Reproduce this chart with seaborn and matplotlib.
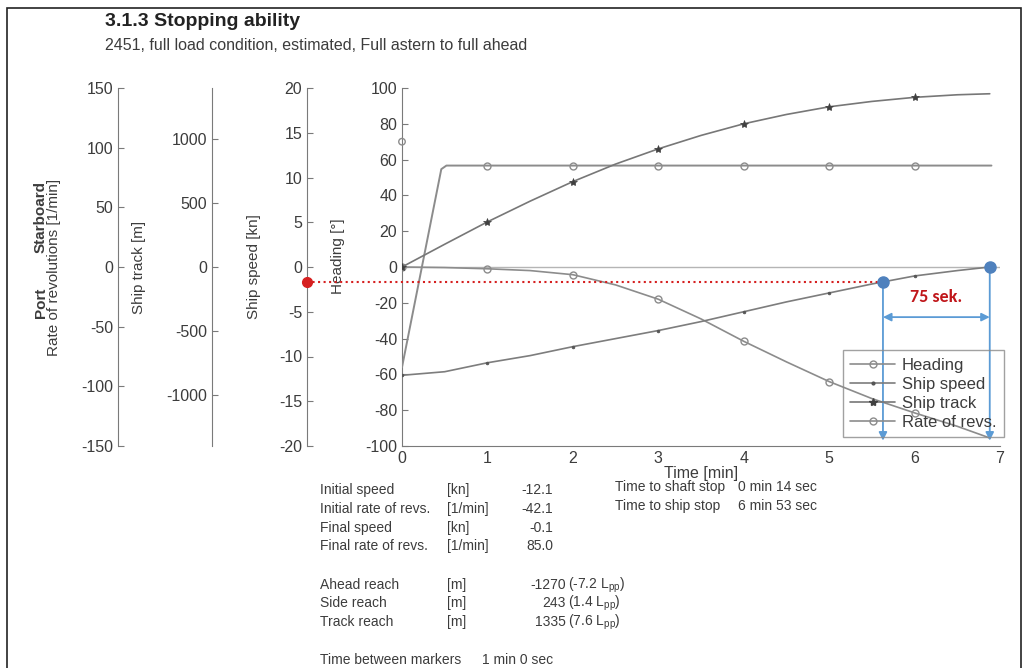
import matplotlib
matplotlib.use("Agg")
import matplotlib.pyplot as plt
import seaborn as sns
from matplotlib.lines import Line2D
from matplotlib.patches import Rectangle

# time axis [min]
t = [0, 0.5, 1, 1.5, 2, 2.5, 3, 3.5, 4, 4.5, 5, 5.5, 6, 6.5, 6.88]
heading = [0, -0.3, -1, -2, -4.3, -10, -18, -29, -41.5, -53, -64, -73.5, -81.5, -89, -95.5]
ship_speed = [-12.1, -11.7, -10.7, -9.9, -8.9, -8.0, -7.1, -6.1, -5.0, -3.9, -2.9, -1.9, -1.0, -0.4, 0.0]
ship_track = [0, 178, 353, 515, 668, 805, 924, 1029, 1120, 1193, 1253, 1295, 1327, 1347, 1355]
t_revs = [0, 0.46, 0.52, 0.6, 1, 2, 3, 4, 5, 6, 6.9]
revs = [-84, 82, 85, 85, 85, 85, 85, 85, 85, 85, 85]
stray_t, stray_revs = [0], [105]

# stop annotation (speed axis units)
stop_t = [5.63, 6.88]
stop_speed = [-1.7, 0.0]
arrow_speed = -5.6
label_speed = -3.4

stats_labels = ["Initial speed", "Initial rate of revs.", "Final speed", "Final rate of revs."]
stats_units = ["[kn]", "[1/min]", "[kn]", "[1/min]"]
stats_values = ["-12.1", "-42.1", "-0.1", "85.0"]
reach_labels = ["Ahead reach", "Side reach", "Track reach"]
reach_values = ["-1270", "243", "1335"]
reach_lpp = ["-7.2", "1.4", "7.6"]

sns.set_style("white")
plt.rcParams["font.family"] = ["Liberation Sans", "DejaVu Sans"]
plt.rcParams["mathtext.fontset"] = "custom"
plt.rcParams["mathtext.rm"] = "Liberation Sans"
plt.rcParams["mathtext.it"] = "Liberation Sans"
plt.rcParams["axes.unicode_minus"] = False

W, H = 1027, 668
TXT = "#3c3c3c"
SPINE = "#7a7a7a"
fig = plt.figure(figsize=(W / 100, H / 100), dpi=100)


def fx(x):
    return x / W


def fy(y):
    return 1 - y / H


ax = fig.add_axes([fx(402), fy(446), 598 / W, 358 / H])
ax.set_xlim(0, 7)
ax.set_ylim(-100, 100)
ax.set_xticks(range(8))
ax.set_yticks(range(-100, 101, 20))
for s in ["top", "right"]:
    ax.spines[s].set_visible(False)
for s in ["left", "bottom"]:
    ax.spines[s].set_color(SPINE)
ax.tick_params(direction="in", length=4, colors=SPINE, labelcolor=TXT, labelsize=11.5)
ax.set_ylabel("Heading [°]", fontsize=11, color=TXT)
ax.yaxis.set_label_coords(-0.095, 0.53)
ax.set_xlabel("Time [min]", fontsize=11.5, color=TXT)
ax.xaxis.set_label_coords(0.5, -0.055)


def side_axis(offset, lim, ticks, label, labelx):
    a = ax.twinx()
    a.set_ylim(*lim)
    for s in ["top", "right", "bottom"]:
        a.spines[s].set_visible(False)
    a.spines["left"].set_visible(True)
    a.spines["left"].set_color(SPINE)
    a.spines["left"].set_position(("axes", offset))
    a.yaxis.set_ticks_position("left")
    a.yaxis.set_label_position("left")
    a.set_yticks(ticks)
    a.tick_params(direction="in", length=4, colors=SPINE, labelcolor=TXT, labelsize=11.5)
    a.set_ylabel(label, fontsize=11, color=TXT)
    a.yaxis.set_label_coords(labelx, 0.5)
    return a


ax_revs = side_axis(-0.475, (-150, 150), range(-150, 151, 50), "Rate of revolutions [1/min]", -0.57)
ax_track = side_axis(-0.318, (-1400, 1400), range(-1000, 1001, 500), "Ship track [m]", -0.428)
speed_off = -0.159
ax_speed = side_axis(speed_off, (-20, 20), range(-20, 21, 5), "Ship speed [kn]", -0.235)

ax.text(-0.604, 0.40, "Port", transform=ax.transAxes, rotation=90, ha="center", va="center",
        fontsize=11, fontweight="bold", color=TXT)
ax.text(-0.604, 0.64, "Starboard", transform=ax.transAxes, rotation=90, ha="center", va="center",
        fontsize=11, fontweight="bold", color=TXT)

# zero reference
ax.axhline(0, color="#b5b5b5", lw=1.0, zorder=1)

c_head, c_speed, c_track, c_revs = "#8c8c8c", "#7d7d7d", "#777777", "#8c8c8c"
marks = [0, 2, 4, 6, 8, 10, 12]

sns.lineplot(x=t, y=heading, ax=ax, color=c_head, lw=1.2, sort=False, errorbar=None,
             marker="o", markevery=marks, markersize=5, markerfacecolor="none",
             markeredgecolor=c_head, markeredgewidth=1)
sns.lineplot(x=t_revs, y=revs, ax=ax_revs, color=c_revs, lw=1.4, sort=False, errorbar=None,
             marker="o", markevery=[4, 5, 6, 7, 8, 9], markersize=5, markerfacecolor="none",
             markeredgecolor=c_revs, markeredgewidth=1)
sns.scatterplot(x=stray_t, y=stray_revs, ax=ax_revs, marker="o", s=22, facecolor="none",
                edgecolor=c_revs, linewidth=1, clip_on=False)
sns.lineplot(x=t, y=ship_track, ax=ax_track, color=c_track, lw=1.2, sort=False, errorbar=None,
             marker="*", markevery=marks, markersize=6, markerfacecolor="#404040",
             markeredgecolor="#404040", markeredgewidth=0.5)
sns.lineplot(x=t, y=ship_speed, ax=ax_speed, color=c_speed, lw=1.2, sort=False, errorbar=None,
             marker=".", markevery=marks, markersize=4, markerfacecolor="#555555",
             markeredgecolor="#555555", markeredgewidth=0.5)

# stop-time annotation
blue, blue_dot, red = "#5b9bd5", "#4f81bd", "#d62020"
red_x = speed_off * 7
ax_speed.plot([red_x, stop_t[0]], [stop_speed[0], stop_speed[0]], color=red, ls=":", lw=1.5,
              clip_on=False, zorder=5)
ax_speed.plot([red_x], [stop_speed[0]], "o", color=red, ms=7, clip_on=False, zorder=6)
for xs, ys in zip(stop_t, stop_speed):
    ax_speed.annotate("", xy=(xs, -19.4), xytext=(xs, ys),
                      arrowprops=dict(arrowstyle="-|>", color=blue, lw=1.3, mutation_scale=12,
                                      shrinkA=0, shrinkB=0))
    ax_speed.plot([xs], [ys], "o", color=blue_dot, ms=8, zorder=6, clip_on=False)
ax_speed.annotate("", xy=(stop_t[1], arrow_speed), xytext=(stop_t[0], arrow_speed),
                  arrowprops=dict(arrowstyle="<|-|>", color=blue, lw=1.3, mutation_scale=12,
                                  shrinkA=0, shrinkB=0))
ax_speed.text(sum(stop_t) / 2, label_speed, "75 sek.", color="#c0161a", fontsize=13,
              fontweight="bold", ha="center", va="center", family=["Carlito", "Liberation Sans"])

handles = [
    Line2D([], [], color=c_head, marker="o", mfc="none", mec=c_head, ms=5, lw=1.2),
    Line2D([], [], color=c_speed, marker=".", mfc="#555555", mec="#555555", ms=4, lw=1.2),
    Line2D([], [], color=c_track, marker="*", mfc="#404040", mec="#404040", ms=6, lw=1.2),
    Line2D([], [], color=c_revs, marker="o", mfc="none", mec=c_revs, ms=5, lw=1.2),
]
leg = ax_speed.legend(handles, ["Heading", "Ship speed", "Ship track", "Rate of revs."],
                      loc="upper left", bbox_to_anchor=(0.737, 0.268), fontsize=12,
                      fancybox=False, edgecolor="#8a8a8a", handlelength=2.7,
                      borderpad=0.45, labelspacing=0.24, handletextpad=0.4, borderaxespad=0)
leg.get_frame().set_facecolor("none")
leg.get_frame().set_linewidth(1.0)
for txt in leg.get_texts():
    txt.set_color(TXT)

# headings
fig.text(fx(105), fy(22), "3.1.3 Stopping ability", fontsize=14, fontweight="bold",
         color="#222222", va="center")
fig.text(fx(105), fy(46), "2451, full load condition, estimated, Full astern to full ahead",
         fontsize=11.5, color=TXT, va="center")

# result table
fs = 10
rows_y = [490, 509, 528, 546]
for yy, lab, unit, val in zip(rows_y, stats_labels, stats_units, stats_values):
    fig.text(fx(320), fy(yy), lab, fontsize=fs, color=TXT, va="center")
    fig.text(fx(447), fy(yy), unit, fontsize=fs, color=TXT, va="center")
    fig.text(fx(553), fy(yy), val, fontsize=fs, color=TXT, va="center", ha="right")
for yy, lab, val, lpp in zip([585, 603, 622], reach_labels, reach_values, reach_lpp):
    fig.text(fx(320), fy(yy), lab, fontsize=fs, color=TXT, va="center")
    fig.text(fx(447), fy(yy), "[m]", fontsize=fs, color=TXT, va="center")
    fig.text(fx(566), fy(yy), val, fontsize=fs, color=TXT, va="center", ha="right")
    fig.text(fx(567.5), fy(yy), "(" + lpp + r" L$_{\rm pp}$)", fontsize=fs, color=TXT, va="center")
fig.text(fx(320), fy(660), "Time between markers", fontsize=fs, color=TXT, va="center")
fig.text(fx(482), fy(660), "1 min 0 sec", fontsize=fs, color=TXT, va="center")
fig.text(fx(615), fy(487), "Time to shaft stop", fontsize=fs, color=TXT, va="center")
fig.text(fx(738), fy(487), "0 min 14 sec", fontsize=fs, color=TXT, va="center")
fig.text(fx(615), fy(506), "Time to ship stop", fontsize=fs, color=TXT, va="center")
fig.text(fx(738), fy(506), "6 min 53 sec", fontsize=fs, color=TXT, va="center")

# page frame
fig.patches.append(Rectangle((fx(7), -0.02), (1021 - 7) / W, fy(8) + 0.02, transform=fig.transFigure,
                             fill=False, edgecolor="#222222", lw=1.2))

fig.savefig("out.png", dpi=100)
